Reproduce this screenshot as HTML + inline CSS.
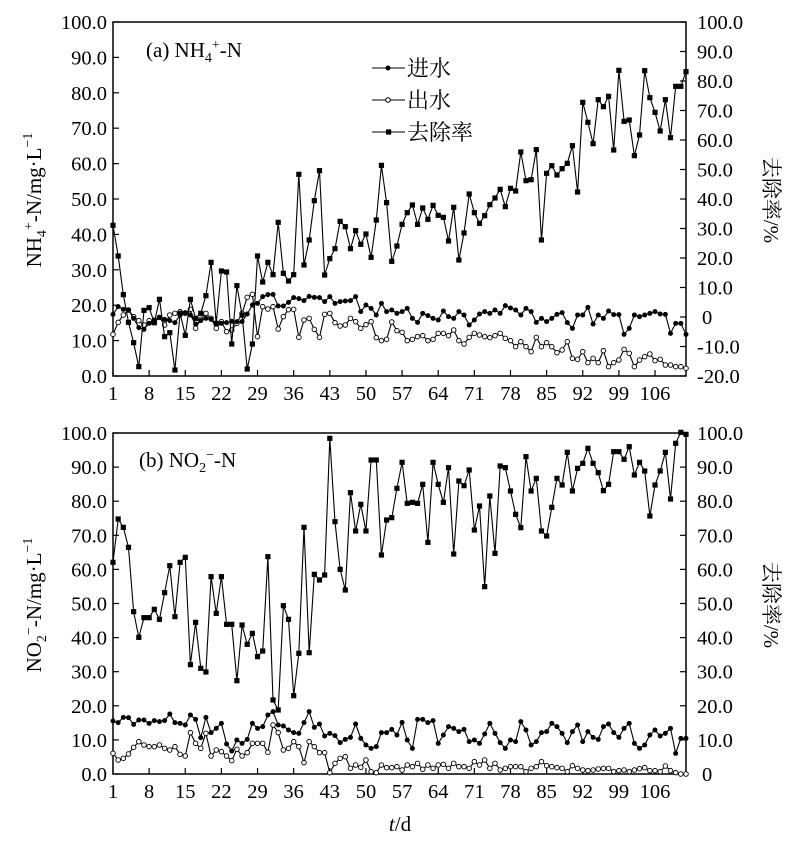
<!DOCTYPE html>
<html><head><meta charset="utf-8"><style>
body{margin:0;background:#fff}
svg{display:block}
text{font-family:"Liberation Serif","Noto Serif CJK SC",serif;fill:#000}
.cj{font-family:"Liberation Serif","Noto Serif CJK SC","Noto Sans CJK SC",serif}
</style></head><body>
<svg id="s" width="800" height="849" xmlns="http://www.w3.org/2000/svg"></svg>
<script>
const S=document.getElementById('s');
let h='';
const X0=113,X1=686;
function xd(d){return X0+(d-1)*(X1-X0)/111;}
function panel(top,bot,rmin,rmax,rstep){
  h+=`<rect x="${X0}" y="${top}" width="${X1-X0}" height="${bot-top}" fill="none" stroke="#000" stroke-width="1.5"/>`;
  for(let v=0;v<=100;v+=10){const y=bot-(bot-top)*v/100;
    h+=`<line x1="${X0}" x2="${X0+6}" y1="${y}" y2="${y}" stroke="#000" stroke-width="1.2"/>`;
    h+=`<text x="107" y="${y+7}" font-size="20.5" text-anchor="end">${v.toFixed(1)}</text>`;}
  const n=(rmax-rmin)/rstep;
  for(let i=0;i<=n;i++){const v=rmin+i*rstep;const y=bot-(bot-top)*i/n;
    h+=`<line x1="${X1-6}" x2="${X1}" y1="${y}" y2="${y}" stroke="#000" stroke-width="1.2"/>`;
    h+=`<text x="${v===0?702:697}" y="${y+7}" font-size="20.5">${v===0?'0':v.toFixed(1)}</text>`;}
  for(let d=1;d<=106;d+=7){const x=xd(d);
    h+=`<line x1="${x}" x2="${x}" y1="${bot}" y2="${bot-6}" stroke="#000" stroke-width="1.2"/>`;
    h+=`<text x="${x}" y="${bot+24}" font-size="20.5" text-anchor="middle">${d}</text>`;}
}
function pad(a){while(a.length<112)a.push(a[a.length-1]);return a.slice(0,112);}
function series(arr,off,type){
  arr=pad(arr);const pts=arr.map((v,i)=>[xd(i+1),off+v/3]);
  h+=`<polyline fill="none" stroke="#000" stroke-width="1.1" points="${pts.map(p=>p[0].toFixed(1)+','+p[1].toFixed(1)).join(' ')}"/>`;
  pts.forEach(p=>{
    if(type==='sq')h+=`<rect x="${p[0]-2.6}" y="${p[1]-2.6}" width="5.2" height="5.2" fill="#000"/>`;
    else if(type==='dot')h+=`<circle cx="${p[0]}" cy="${p[1]}" r="2.5" fill="#000"/>`;
    else h+=`<circle cx="${p[0]}" cy="${p[1]}" r="2.3" fill="#fff" stroke="#000" stroke-width="0.9"/>`;});
}
panel(22,376,-20,100,10);
panel(433,774,0,100,10);
const aR=[676,768,884,967,1028,1100,931,923,968,898,1010,998,1110,940,1006,898,955,940,887,787,970,813,816,1032,857,945,1107,1032,768,846,787,824,667,820,843,824,523,795,720,602,512,825,776,746,664,680,746,692,733,702,772,660,496,608,784,738,673,638,615,673,624,658,616,646,652,723,622,780,699,582,638,670,647,614,594,568,620,565,573,456,542,539,449,720,520,497,525,506,490,437,576,307,367,431,299,320,289,450,211,364,360,467,405,212,293,337,393,299,413,259,259,215];
const aI=[943,920,928,930,955,983,988,970,960,952,958,962,968,945,938,945,972,962,955,958,970,970,968,964,965,965,942,915,910,890,884,883,918,918,907,893,896,902,889,892,893,905,890,910,905,903,902,890,935,915,925,945,910,935,930,940,935,925,955,967,940,947,955,960,933,950,955,935,945,975,960,942,935,940,930,940,917,924,930,945,925,935,967,955,965,955,943,938,968,985,945,945,922,972,945,955,933,944,944,1003,985,945,950,945,940,935,942,943,1000,970,970,1003];
const aE=[1003,967,945,930,950,962,975,962,968,952,975,945,940,935,940,928,985,958,940,955,985,965,995,990,970,940,892,883,1010,920,927,920,987,950,929,928,1012,960,955,988,1012,943,940,968,978,975,955,965,985,974,965,1013,1022,1018,966,992,997,1022,1018,1010,1007,1022,1018,1000,1000,1007,990,1022,1032,1012,1000,1005,1010,1013,1007,1000,1015,1022,1040,1025,1040,1055,1012,1040,1028,1040,1058,1050,1025,1075,1078,1055,1088,1075,1088,1052,1100,1088,1080,1048,1060,1100,1080,1070,1062,1082,1078,1095,1095,1100,1100,1105];
const bR=[487,357,382,442,635,712,653,653,628,658,578,497,650,487,472,794,667,805,816,530,640,530,673,673,842,675,733,700,770,753,470,900,930,617,658,887,760,382,758,523,540,525,115,365,508,570,278,393,313,393,180,180,465,360,353,265,187,310,307,310,253,427,187,253,307,203,462,243,257,210,390,318,560,288,460,198,203,273,343,383,170,273,235,393,408,322,235,255,157,273,205,190,145,190,218,272,253,155,155,178,140,225,187,213,348,255,213,157,297,130,97,103];
const bI=[963,968,952,953,973,960,960,970,962,965,962,942,968,970,975,945,958,1013,952,998,985,970,1032,1053,1020,1030,1018,970,985,980,945,935,975,978,990,998,1000,968,935,982,972,1008,1000,1007,1028,1018,1012,972,1015,1035,1045,1040,998,998,988,1005,967,1020,1045,958,958,968,962,1030,1005,980,985,995,988,1025,1020,1030,1002,970,1000,1028,1045,1020,1025,965,990,1035,1025,998,995,970,980,1000,1028,995,975,1025,995,1012,1018,980,972,998,1012,985,970,1030,1045,1035,1005,990,1008,1000,985,1060,1015,1015];
const bE=[1060,1080,1075,1062,1042,1025,1035,1040,1040,1035,1045,1050,1040,1063,1068,998,1030,1045,1000,1068,1050,1055,1068,1082,1048,1068,1058,1030,1030,1030,1057,975,998,1050,1045,1025,1040,1088,1025,1040,1058,1058,1118,1090,1075,1070,1105,1095,1102,1080,1115,1118,1095,1103,1103,1100,1110,1095,1100,1090,1108,1095,1105,1095,1093,1105,1090,1100,1100,1105,1085,1095,1080,1105,1090,1110,1105,1100,1100,1100,1115,1105,1100,1085,1097,1100,1103,1105,1115,1097,1105,1110,1112,1110,1107,1105,1105,1115,1112,1110,1115,1110,1106,1103,1112,1112,1115,1098,1112,1118,1122,1122];
series(aE,0,'open');series(aI,0,'dot');series(aR,0,'sq');
series(bE,400,'open');series(bI,400,'dot');series(bR,400,'sq');
[[68,'dot','进水'],[100,'open','出水'],[132,'sq','去除率']].forEach(([y,t,l])=>{
  h+=`<line x1="372" x2="405" y1="${y}" y2="${y}" stroke="#000" stroke-width="1.1"/>`;
  if(t==='sq')h+=`<rect x="386" y="${y-2.6}" width="5.2" height="5.2"/>`;
  else if(t==='dot')h+=`<circle cx="388" cy="${y}" r="2.5"/>`;
  else h+=`<circle cx="388" cy="${y}" r="2.3" fill="#fff" stroke="#000"/>`;
  h+=`<text class="cj" x="407" y="${y+8}" font-size="22">${l}</text>`;});
h+=`<text x="146" y="57" font-size="21">(a)  NH<tspan font-size="14" dy="5">4</tspan><tspan font-size="14" dy="-13">+</tspan><tspan dy="8">-N</tspan></text>`;
h+=`<text x="139" y="467" font-size="21">(b)  NO<tspan font-size="14" dy="5">2</tspan><tspan font-size="14" dy="-13">−</tspan><tspan dy="8">-N</tspan></text>`;
h+=`<text transform="translate(41,200) rotate(-90)" font-size="21" text-anchor="middle">NH<tspan font-size="14" dy="5">4</tspan><tspan font-size="14" dy="-13">+</tspan><tspan dy="8">-N/mg·L</tspan><tspan font-size="14" dy="-9">−1</tspan></text>`;
h+=`<text transform="translate(41,605) rotate(-90)" font-size="21" text-anchor="middle">NO<tspan font-size="14" dy="5">2</tspan><tspan font-size="14" dy="-13">−</tspan><tspan dy="8">-N/mg·L</tspan><tspan font-size="14" dy="-9">−1</tspan></text>`;
h+=`<text class="cj" transform="translate(764,200) rotate(90)" font-size="21" text-anchor="middle">去除率/%</text>`;
h+=`<text class="cj" transform="translate(764,605) rotate(90)" font-size="21" text-anchor="middle">去除率/%</text>`;
h+=`<text x="400" y="831" font-size="21" text-anchor="middle"><tspan font-style="italic">t</tspan>/d</text>`;
S.innerHTML=h;
</script>
</body></html>
